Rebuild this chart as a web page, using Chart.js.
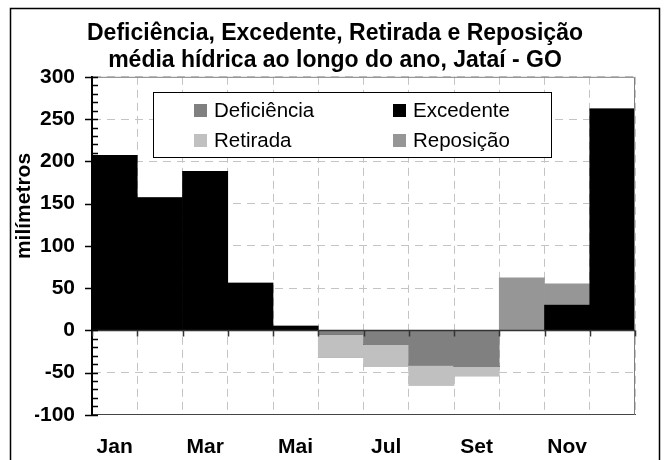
<!DOCTYPE html>
<html>
<head>
<meta charset="utf-8">
<script src="https://cdn.jsdelivr.net/npm/chart.js@4"></script>
<style>
  html, body { margin: 0; padding: 0; background: #fff; }
  canvas { display: block; }
</style>
</head>
<body>
<canvas id="chart" width="670" height="460"></canvas>
<script>
const months = ['Jan', 'Fev', 'Mar', 'Abr', 'Mai', 'Jun', 'Jul', 'Ago', 'Set', 'Out', 'Nov', 'Dez'];
const deficiencia = [0, 0, 0, 0, 0, -5, -17, -41, -43, 0, 0, 0];
const excedente = [207, 157, 188, 56, 5, 0, 0, 0, 0, 0, 30, 262];
const retirada = [0, 0, 0, 0, 0, -27, -26, -24, -11, 0, 0, 0];
const reposicao = [0, 0, 0, 0, 0, 0, 0, 0, 0, 62, 25, 0];
const yTicks = [-100, -50, 0, 50, 100, 150, 200, 250, 300];

const FONT = "'Liberation Sans', Arial, sans-serif";

// frame, zero line, axis tick marks, y title and the boxed legend
const decorations = {
  id: 'decorations',
  afterDatasetsDraw(chart) {
    const { ctx, chartArea: a, scales: { x, y } } = chart;
    ctx.save();

    // plot frame (top and right)
    ctx.strokeStyle = '#808080';
    ctx.lineWidth = 1;
    ctx.beginPath();
    ctx.moveTo(a.left, a.top + 0.5);
    ctx.lineTo(a.right - 0.5, a.top + 0.5);
    ctx.lineTo(a.right - 0.5, a.bottom);
    ctx.stroke();

    // zero line with category ticks
    const y0 = Math.round(y.getPixelForValue(0)) + 0.5;
    ctx.strokeStyle = '#333';
    ctx.lineWidth = 1.5;
    ctx.beginPath();
    ctx.moveTo(a.left, y0);
    ctx.lineTo(a.right, y0);
    const half = (x.getPixelForValue(1) - x.getPixelForValue(0)) / 2;
    for (let i = 0; i <= months.length; i++) {
      const px = Math.round(x.getPixelForValue(0) - half + i * 2 * half) + 0.5;
      ctx.moveTo(px, y0);
      ctx.lineTo(px, y0 + 6);
    }
    ctx.stroke();

    // y axis ticks: major across, minor inside
    ctx.strokeStyle = '#000';
    ctx.lineWidth = 1.5;
    ctx.beginPath();
    for (let v = y.min; v <= y.max; v += 10) {
      const py = Math.round(y.getPixelForValue(v)) + 0.5;
      const major = v % 50 === 0;
      ctx.moveTo(a.left - (major ? 7 : 0), py);
      ctx.lineTo(a.left + 6, py);
    }
    ctx.stroke();

    // y title
    ctx.fillStyle = '#000';
    ctx.font = 'bold 21px ' + FONT;
    ctx.textAlign = 'center';
    ctx.textBaseline = 'middle';
    ctx.translate(24, 206);
    ctx.rotate(-Math.PI / 2);
    ctx.fillText('milímetros', 0, 0);
    ctx.setTransform(1, 0, 0, 1, 0, 0);

    // legend box
    const box = { left: 153, top: 92, right: 551, bottom: 157 };
    ctx.fillStyle = '#fff';
    ctx.fillRect(box.left, box.top, box.right - box.left, box.bottom - box.top);
    ctx.strokeStyle = '#000';
    ctx.lineWidth = 1;
    ctx.strokeRect(box.left + 0.5, box.top + 0.5, box.right - box.left, box.bottom - box.top);
    ctx.font = '20.5px ' + FONT;
    ctx.textAlign = 'left';
    chart.data.datasets.forEach((ds, i) => {
      const col = i % 2, row = Math.floor(i / 2);
      const sx = col === 0 ? 194 : 393;
      const cy = row === 0 ? 110 : 140;
      ctx.fillStyle = ds.backgroundColor;
      ctx.fillRect(sx, cy - 6, 13, 13);
      ctx.fillStyle = '#000';
      ctx.fillText(ds.label, sx + 20, cy + 1);
    });

    // outer border
    ctx.strokeStyle = '#000';
    ctx.lineWidth = 1.5;
    ctx.beginPath();
    ctx.moveTo(10.5, 470);
    ctx.lineTo(10.5, 8.5);
    ctx.lineTo(659.5, 8.5);
    ctx.lineTo(659.5, 470);
    ctx.stroke();
    ctx.restore();
  }
};

new Chart(document.getElementById('chart'), {
  type: 'bar',
  data: {
    labels: months,
    datasets: [
      { label: 'Deficiência', data: deficiencia, backgroundColor: '#808080' },
      { label: 'Excedente', data: excedente, backgroundColor: '#000000' },
      { label: 'Retirada', data: retirada, backgroundColor: '#c0c0c0' },
      { label: 'Reposição', data: reposicao, backgroundColor: '#969696' }
    ]
  },
  options: {
    responsive: false,
    animation: false,
    layout: { padding: { top: 20, right: 35, bottom: -20, left: 35 } },
    datasets: { bar: { barPercentage: 1, categoryPercentage: 1, borderWidth: 0 } },
    plugins: {
      legend: { display: false },
      tooltip: { enabled: false },
      title: {
        display: true,
        text: ['Deficiência, Excedente, Retirada e Reposição', 'média hídrica ao longo do ano, Jataí - GO'],
        color: '#000',
        font: { family: FONT, size: 23, weight: 'bold', lineHeight: 1.17 },
        padding: { top: 0, bottom: 3 }
      }
    },
    scales: {
      x: {
        stacked: true,
        grid: { color: '#c4c4c4', lineWidth: 1, drawTicks: false },
        border: { display: true, color: '#444', width: 1, dash: [8, 5] },
        ticks: {
          autoSkip: false,
          maxRotation: 0,
          padding: 20,
          color: '#000',
          font: { family: FONT, size: 21, weight: 'bold' },
          callback: (v, i) => (i % 2 === 0 ? months[i] : '')
        }
      },
      y: {
        stacked: true,
        min: -100,
        max: 300,
        afterBuildTicks: (scale) => { scale.ticks = yTicks.map(v => ({ value: v })); },
        afterFit: (scale) => { scale.width = 57; },
        grid: {
          color: (c) => (c.tick && c.tick.value === 0 ? 'rgba(0,0,0,0)' : '#c4c4c4'),
          lineWidth: 1,
          drawTicks: false
        },
        border: { display: true, color: '#000', width: 2, dash: [8, 6] },
        ticks: {
          padding: 17,
          color: '#000',
          font: { family: FONT, size: 21, weight: 'bold' }
        }
      }
    }
  },
  plugins: [decorations]
});
</script>
</body>
</html>
